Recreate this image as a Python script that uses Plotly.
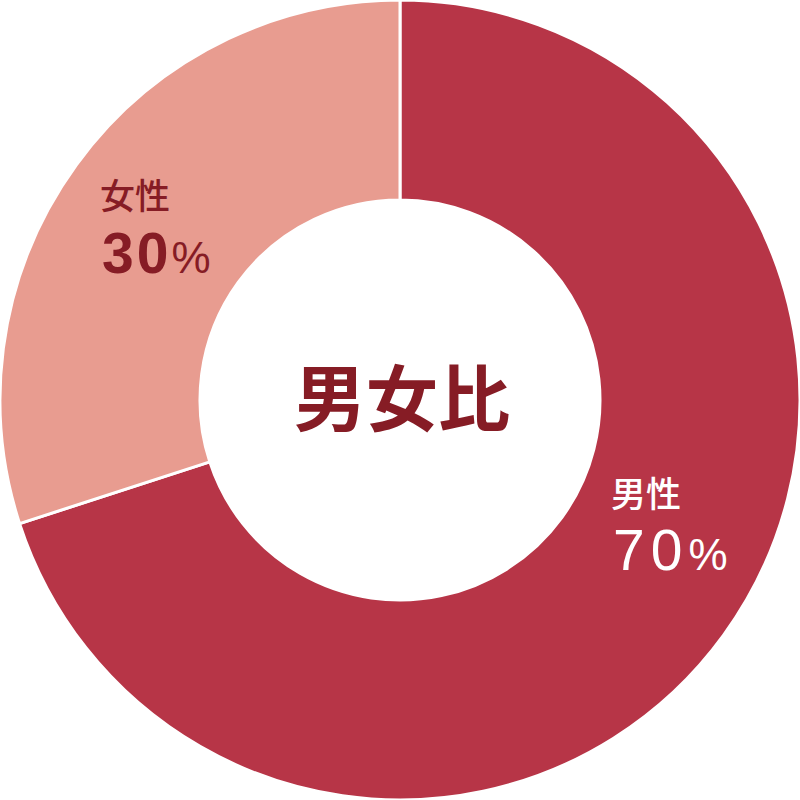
import plotly.graph_objects as go

# 男女比 data
labels = ['男性', '女性']
values = [70, 30]
colors = ['#B73547', '#E89C90']

title_text = '男女比'
dark = '#861C25'

pie = go.Pie(labels=labels, values=values, hole=0.5, sort=False,
             direction='clockwise', rotation=0, textinfo='none',
             hoverinfo='label+percent',
             marker=dict(colors=colors, line=dict(color='white', width=3)))

cjk = 'Noto Sans CJK JP'
num = 'Liberation Sans, Arial, sans-serif'

def pct(v, size, spacing):
    return (f"<span style='letter-spacing:{spacing}px'>{v}</span>"
            f"<span style='font-size:{size}px;font-weight:normal'>%</span>")

def px(x, y):
    return dict(x=x / 800, y=1 - y / 800)

annotations = [
    dict(text=title_text, **px(402, 394), showarrow=False, xanchor='center', yanchor='middle',
         font=dict(family=cjk, size=72, color=dark, weight='bold')),
    # female label
    dict(text=labels[1], **px(98, 194), showarrow=False, xanchor='left', yanchor='middle',
         font=dict(family=cjk, size=35, color=dark, weight=500)),
    dict(text=pct(values[1], 44, 3), **px(100, 253), showarrow=False, xanchor='left', yanchor='middle',
         font=dict(family=num, size=57, color=dark, weight='bold')),
    # male label
    dict(text=labels[0], **px(609, 491), showarrow=False, xanchor='left', yanchor='middle',
         font=dict(family=cjk, size=35, color='white', weight=500)),
    dict(text=pct(values[0], 44, 6), **px(611, 550), showarrow=False, xanchor='left', yanchor='middle',
         font=dict(family=num, size=57, color='white')),
]

fig = go.Figure(data=[pie])
fig.update_layout(width=800, height=800, margin=dict(l=0, r=0, t=0, b=0),
                  showlegend=False, paper_bgcolor='white', plot_bgcolor='white',
                  annotations=annotations)
fig.write_html('out.html', config={'displayModeBar': False},
               post_script="document.body.style.margin='0';")
